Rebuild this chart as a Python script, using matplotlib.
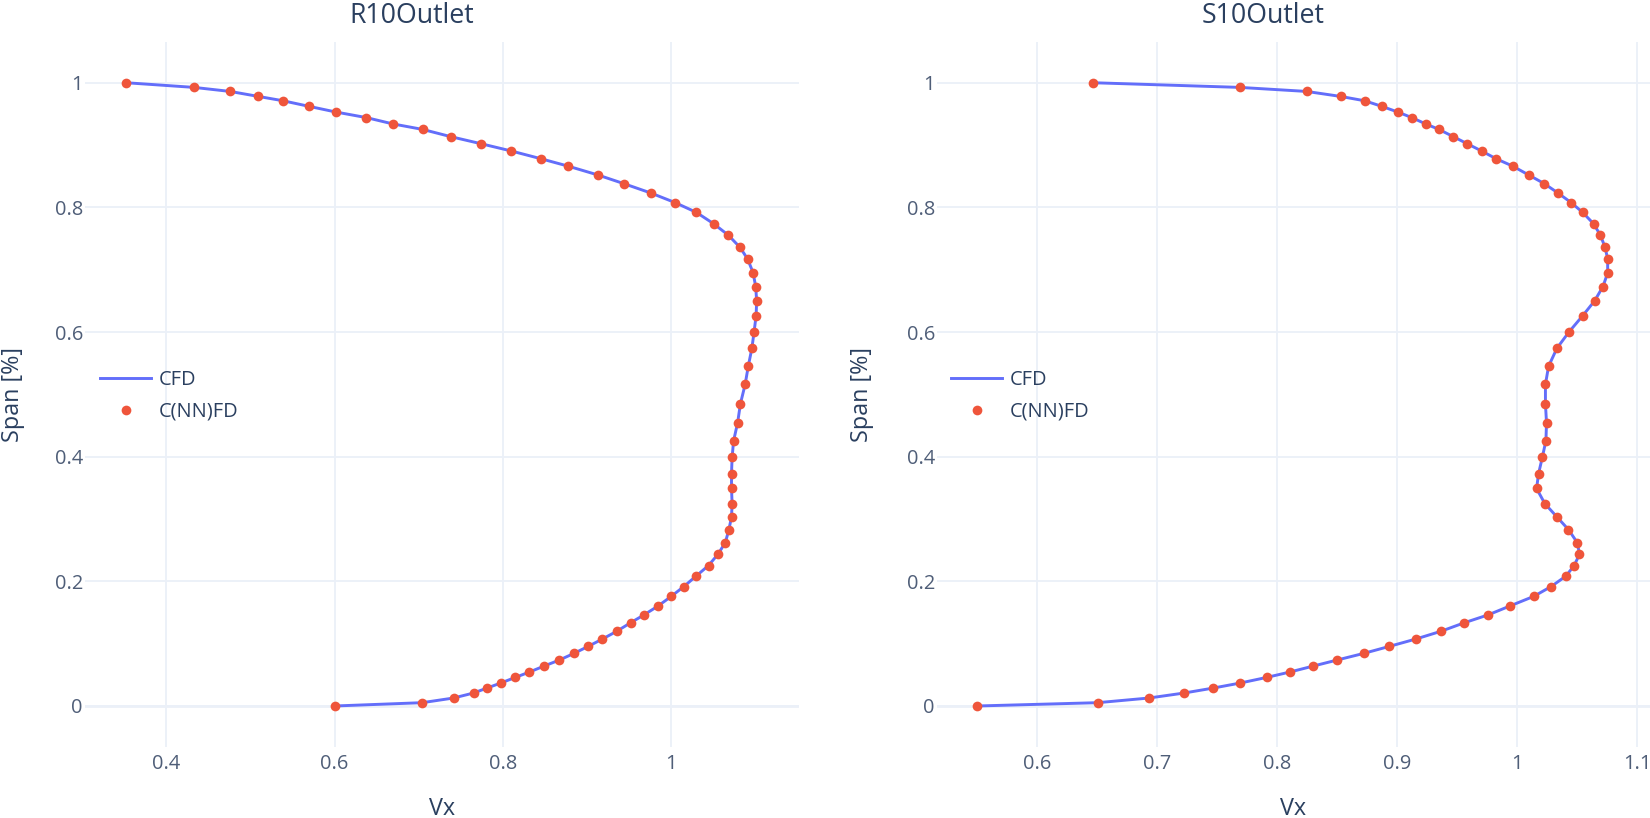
import matplotlib
matplotlib.use("Agg")
import matplotlib.pyplot as plt
from matplotlib.ticker import FuncFormatter, FixedLocator

plt.rcParams['font.family'] = ['Open Sans', 'DejaVu Sans']

# ---------------- data ----------------
span = [1.0, 0.9925, 0.986, 0.978, 0.971, 0.962, 0.953, 0.944, 0.934, 0.925,
        0.9135, 0.902, 0.8905, 0.878, 0.866, 0.852, 0.838, 0.823, 0.8077, 0.792,
        0.7736, 0.7554, 0.7357, 0.717, 0.695, 0.673, 0.650, 0.626, 0.600, 0.574,
        0.545, 0.516, 0.485, 0.454, 0.4256, 0.399, 0.373, 0.349, 0.3247, 0.3033,
        0.283, 0.262, 0.2435, 0.2254, 0.2083, 0.1917, 0.176, 0.1607, 0.1463, 0.1335,
        0.120, 0.1073, 0.0956, 0.0844, 0.0737, 0.0641, 0.0545, 0.0459, 0.0368, 0.0288,
        0.0208, 0.0128, 0.0053, 0.0]

vx_r10 = [0.352, 0.433, 0.476, 0.5095, 0.539, 0.570, 0.6015, 0.638, 0.669, 0.705,
          0.738, 0.7745, 0.810, 0.8454, 0.878, 0.913, 0.944, 0.976, 1.0047, 1.030,
          1.0507, 1.068, 1.082, 1.091, 1.0975, 1.1005, 1.1017, 1.101, 1.0986, 1.096,
          1.0917, 1.088, 1.0824, 1.079, 1.0743, 1.0725, 1.0718, 1.0718, 1.0725, 1.0718,
          1.0687, 1.0644, 1.0557, 1.0445, 1.0296, 1.0152, 1.0003, 0.9848, 0.968, 0.9518,
          0.9356, 0.9182, 0.9014, 0.8846, 0.8672, 0.8491, 0.8317, 0.815, 0.7975, 0.7813,
          0.7652, 0.7415, 0.7042, 0.6003]

vx_s10 = [0.6459, 0.7686, 0.8245, 0.8528, 0.8729, 0.8873, 0.9004, 0.9122, 0.9236, 0.9349,
          0.9467, 0.9585, 0.9703, 0.9825, 0.9965, 1.0096, 1.0227, 1.0341, 1.045, 1.0546,
          1.0638, 1.0694, 1.0734, 1.0755, 1.0755, 1.0716, 1.0646, 1.0546, 1.0432, 1.0332,
          1.0262, 1.0236, 1.0236, 1.0245, 1.024, 1.021, 1.0179, 1.0162, 1.0231, 1.0332,
          1.0428, 1.0502, 1.052, 1.0476, 1.0406, 1.0284, 1.014, 0.9943, 0.976, 0.9559,
          0.9367, 0.9153, 0.8934, 0.8721, 0.8498, 0.8301, 0.8105, 0.7913, 0.769, 0.7467,
          0.7223, 0.693, 0.6502, 0.5498]

titles = ["R10Outlet", "S10Outlet"]
series_names = ["CFD", "C(NN)FD"]
x_label = "Vx"
y_label = "Span [%]"
xticks_r10 = [0.4, 0.6, 0.8, 1.0]
xticks_s10 = [0.6, 0.7, 0.8, 0.9, 1.0, 1.1]
yticks = [0, 0.2, 0.4, 0.6, 0.8, 1.0]

# ---------------- style ----------------
W, H = 1650, 818
LINE_C = '#636EFA'
MARK_C = '#EF553B'
GRID_C = '#EBF0F8'
TEXT_C = '#2a3f5f'
TICK_C = '#4f5e78'

fig = plt.figure(figsize=(W / 100, H / 100), dpi=100)
fig.patch.set_facecolor('white')


def px_axes(x0, x1, ytop, ybot):
    return [x0 / W, 1 - ybot / H, (x1 - x0) / W, (ybot - ytop) / H]


fmt = FuncFormatter(lambda v, p: '{:g}'.format(round(v, 6)))

panels = [
    dict(vx=vx_r10, xticks=xticks_r10, xlim=(0.3035, 1.152),
         rect=px_axes(85, 799, 41.7, 747), title=titles[0], tx=412, ylx=13, xlx=442, legx=100),
    dict(vx=vx_s10, xticks=xticks_s10, xlim=(0.5162, 1.1108),
         rect=px_axes(937, 1650, 41.7, 747), title=titles[1], tx=1263, ylx=862, xlx=1293, legx=951),
]

for p in panels:
    ax = fig.add_axes(p['rect'])
    ax.set_facecolor('white')
    for s in ax.spines.values():
        s.set_visible(False)
    ax.set_xlim(*p['xlim'])
    ax.set_ylim(-0.0658, 1.0658)
    ax.xaxis.set_major_locator(FixedLocator(p['xticks']))
    ax.yaxis.set_major_locator(FixedLocator(yticks))
    ax.xaxis.set_major_formatter(fmt)
    ax.yaxis.set_major_formatter(fmt)
    ax.tick_params(axis='both', length=0, labelsize=14.4, labelcolor=TICK_C)
    ax.tick_params(axis='y', pad=1.5)
    ax.tick_params(axis='x', pad=5)
    ax.grid(True, color=GRID_C, linewidth=1.3, zorder=0)
    ax.set_axisbelow(True)
    ax.axhline(0, color=GRID_C, linewidth=2.0, zorder=0.5)

    ax.plot(p['vx'], span, color=LINE_C, linewidth=2.1, label=series_names[0], zorder=2,
            solid_joinstyle='round')
    ax.plot(p['vx'], span, linestyle='none', marker='o', markersize=7.0,
            markerfacecolor=MARK_C, markeredgewidth=0, label=series_names[1], zorder=3)

    leg = ax.legend(loc='center left', bbox_to_anchor=(p['legx'] / W, 1 - 395.5 / H),
                    bbox_transform=fig.transFigure, frameon=False, fontsize=14.4,
                    borderpad=0, borderaxespad=0, handlelength=2.55, handletextpad=0.4,
                    labelspacing=0.6, labelcolor=TEXT_C)

    fig.text(p['tx'] / W, 1 - 16 / H, p['title'], ha='center', va='center',
             fontsize=19.2, color=TEXT_C)
    fig.text(p['ylx'] / W, 1 - 394 / H, y_label, rotation=90, ha='center', va='center',
             fontsize=16.8, color=TEXT_C)
    fig.text(p['xlx'] / W, 1 - 809 / H, x_label, ha='center', va='center',
             fontsize=16.8, color=TEXT_C)

fig.savefig('out.png', dpi=100, facecolor='white')
